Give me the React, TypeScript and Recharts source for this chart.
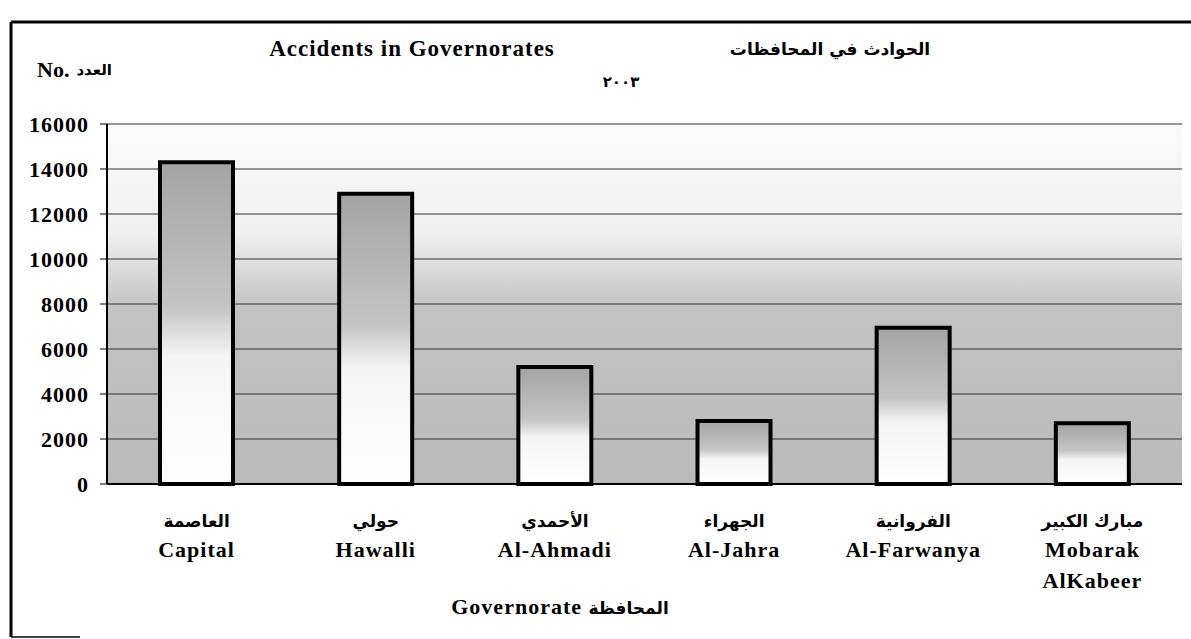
import React from "react";
import { BarChart, Bar, XAxis, YAxis, CartesianGrid } from "recharts";

const namesAr = ["العاصمة", "حولي", "الأحمدي", "الجهراء", "الفروانية", "مبارك الكبير"];
const namesEn = ["Capital", "Hawalli", "Al-Ahmadi", "Al-Jahra", "Al-Farwanya", "Mobarak AlKabeer"];
const accidents = [14300, 12900, 5200, 2800, 6950, 2700];
const yTicks = [0, 2000, 4000, 6000, 8000, 10000, 12000, 14000, 16000];

const data = namesEn.map((en, i) => ({ en, ar: namesAr[i], value: accidents[i] }));

const SERIF = "'Liberation Serif', 'Times New Roman', serif";
const ARABIC = "'DejaVu Sans', sans-serif";

function GovTick(props: any) {
  const { x, y, index } = props;
  const lines = namesEn[index].split(" ");
  return (
    <g>
      <text x={x} y={y + 43} textAnchor="middle" fontFamily={ARABIC} fontWeight="bold" fontSize={17} fill="#000">
        {namesAr[index]}
      </text>
      {lines.map((l, i) => (
        <text
          key={i}
          x={x}
          y={y + 73 + i * 31}
          textAnchor="middle"
          fontFamily={SERIF}
          fontWeight="bold"
          fontSize={22}
          letterSpacing={1}
          fill="#000"
        >
          {l}
        </text>
      ))}
    </g>
  );
}

export default function App() {
  return (
    <div style={{ position: "absolute", left: 0, top: 0, width: 1191, height: 639, background: "#fff", overflow: "hidden" }}>
      <BarChart
        width={1191}
        height={639}
        data={data}
        margin={{ top: 124, right: 9, bottom: 55, left: 0 }}
        barSize={73}
      >
        <defs>
          <linearGradient id="plotBg" x1="0" y1="0" x2="0" y2="1">
            <stop offset="0%" stopColor="#fbfbfb" />
            <stop offset="30%" stopColor="#f0f0f0" />
            <stop offset="43%" stopColor="#d4d4d4" />
            <stop offset="52%" stopColor="#c2c2c2" />
            <stop offset="100%" stopColor="#bababa" />
          </linearGradient>
          <linearGradient id="barFill" x1="0" y1="0" x2="0" y2="1">
            <stop offset="0%" stopColor="#a4a4a4" />
            <stop offset="45%" stopColor="#c4c4c4" />
            <stop offset="60%" stopColor="#f4f4f4" />
            <stop offset="100%" stopColor="#ffffff" />
          </linearGradient>
        </defs>
        <CartesianGrid vertical={false} stroke="#333" strokeWidth={1} fill="url(#plotBg)" fillOpacity={1} />
        <XAxis
          dataKey="en"
          height={100}
          interval={0}
          tickLine={false}
          tickSize={0}
          tickMargin={0}
          axisLine={{ stroke: "#000", strokeWidth: 2 }}
          tick={<GovTick />}
        />
        <YAxis
          domain={[0, 16000]}
          ticks={yTicks}
          interval={0}
          width={107}
          tickSize={7}
          tickMargin={11}
          axisLine={{ stroke: "#000", strokeWidth: 2 }}
          tickLine={{ stroke: "#000" }}
          tick={{ fill: "#000", fontSize: 22, fontWeight: "bold", fontFamily: SERIF, letterSpacing: 1 }}
        />
        <Bar dataKey="value" fill="url(#barFill)" stroke="#000" strokeWidth={4} isAnimationActive={false} />
      </BarChart>
      <svg width={1191} height={639} style={{ position: "absolute", left: 0, top: 0, pointerEvents: "none" }}>
        <line x1={11} y1={22} x2={1191} y2={22} stroke="#000" strokeWidth={3} />
        <line x1={11} y1={22} x2={11} y2={637} stroke="#000" strokeWidth={3} />
        <line x1={11} y1={637} x2={80} y2={637} stroke="#000" strokeWidth={1.5} />
        <text x={412} y={56} textAnchor="middle" fontFamily={SERIF} fontWeight="bold" fontSize={23} letterSpacing={1}>
          Accidents in Governorates
        </text>
        <text x={830} y={55} textAnchor="middle" fontFamily={ARABIC} fontWeight="bold" fontSize={17}>
          الحوادث في المحافظات
        </text>
        <text x={621} y={87} textAnchor="middle" fontFamily={ARABIC} fontWeight="bold" fontSize={15} letterSpacing={4}>
          ٢٠٠٣
        </text>
        <text x={37} y={77} fontFamily={SERIF} fontWeight="bold" fontSize={22}>
          No.
        </text>
        <text x={112} y={75} textAnchor="end" fontFamily={ARABIC} fontWeight="bold" fontSize={15}>
          العدد
        </text>
        <text x={560} y={614} textAnchor="middle" fontWeight="bold">
          <tspan fontFamily={SERIF} fontSize={22} letterSpacing={1}>Governorate </tspan>
          <tspan fontFamily={ARABIC} fontSize={17}>المحافظة</tspan>
        </text>
      </svg>
    </div>
  );
}
